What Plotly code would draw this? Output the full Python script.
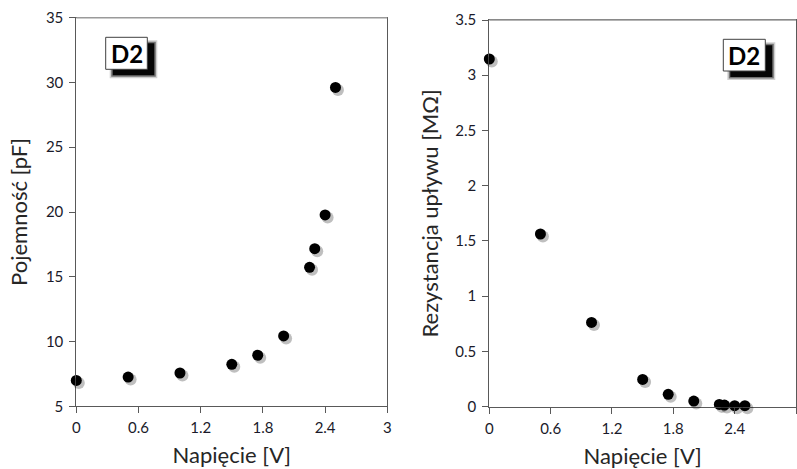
import plotly.graph_objects as go

# ---- data ----
voltage = [0.0, 0.5, 1.0, 1.5, 1.75, 2.0, 2.25, 2.3, 2.4, 2.5]
capacitance_pF = [7.0, 7.26, 7.57, 8.24, 8.94, 10.43, 15.73, 17.17, 19.77, 29.62]
resistance_MOhm = [3.147, 1.563, 0.763, 0.247, 0.112, 0.051, 0.021, 0.015, 0.009, 0.009]

x_ticks = [0, 0.6, 1.2, 1.8, 2.4, 3]
x_tick_text = ["0", "0.6", "1.2", "1.8", "2.4", "3"]
cap_ticks = [5, 10, 15, 20, 25, 30, 35]
res_ticks = [0, 0.5, 1, 1.5, 2, 2.5, 3, 3.5]
res_tick_text = ["0", "0.5", "1", "1.5", "2", "2.5", "3", "3.5"]

x_title = "Napięcie [V]"
cap_title = "Pojemność [pF]"
res_title = "Rezystancja upływu [MΩ]"
panel_label = "D2"

W, H = 797, 469
FONT = "Lato, 'Open Sans', sans-serif"
AXC = "#595959"
TXT = "#1a1a2a"


def px(x):
    return min(max(x / W, 0), 1)


def py(y):
    return min(max(1 - y / H, 0), 1)


# plot-area pixel boxes (left, top, right, bottom)
L = (76.3, 17.7, 387.3, 406.3)
R = (489.3, 20.0, 796.0, 406.7)
SH = 2.5  # shadow offset in px
XR = [0, 3]
L_xr = [XR[0], XR[1]]
R_xr = [XR[0], XR[1] - (XR[1] - XR[0]) * SH / (R[2] - R[0])]

fig = go.Figure()

fig.add_trace(go.Scatter(x=voltage, y=capacitance_pF, mode="markers",
                         marker=dict(color="black", size=11), cliponaxis=False,
                         xaxis="x", yaxis="y", showlegend=False))
fig.add_trace(go.Scatter(x=voltage, y=resistance_MOhm, mode="markers",
                         marker=dict(color="black", size=11), cliponaxis=False,
                         xaxis="x2", yaxis="y2", showlegend=False))
fig.add_trace(go.Scatter(x=voltage, y=capacitance_pF, mode="markers",
                         marker=dict(color="rgba(0,0,0,0.25)", size=12), cliponaxis=False,
                         xaxis="x3", yaxis="y3", showlegend=False, hoverinfo="skip"))
fig.add_trace(go.Scatter(x=voltage, y=resistance_MOhm, mode="markers",
                         marker=dict(color="rgba(0,0,0,0.25)", size=12), cliponaxis=False,
                         xaxis="x4", yaxis="y4", showlegend=False, hoverinfo="skip"))

tickfont = dict(family=FONT, size=15, color=TXT)
titlefont = dict(family=FONT, size=22, color="#262626")

common_x = dict(range=XR, tickvals=x_ticks, ticktext=x_tick_text, ticks="outside",
                ticklen=6, tickcolor=AXC, showline=True, linecolor=AXC, linewidth=1,
                mirror=True, showgrid=False, zeroline=False, tickfont=tickfont,
                ticklabelstandoff=2,
                automargin=False, title=dict(text=x_title, font=titlefont, standoff=12))
common_y = dict(ticks="outside", ticklen=6, tickcolor=AXC, showline=True, linecolor=AXC,
                linewidth=1, mirror=True, showgrid=False, zeroline=False, tickfont=tickfont,
                ticklabelstandoff=3, automargin=False)
hidden = dict(visible=False, automargin=False, showgrid=False, zeroline=False)

fig.update_layout(
    width=W, height=H, margin=dict(l=0, r=0, t=0, b=0, autoexpand=False),
    paper_bgcolor="white", plot_bgcolor="rgba(0,0,0,0)",
    font=dict(family=FONT),
    xaxis=dict(domain=[px(L[0]), px(L[2])], anchor="y", **common_x),
    yaxis=dict(domain=[py(L[3]), py(L[1])], anchor="x", range=[5, 35], tickvals=cap_ticks,
               title=dict(text=cap_title, font=titlefont, standoff=12), **common_y),
    xaxis2=dict(domain=[px(R[0]), px(R[2])], anchor="y2", **common_x),
    yaxis2=dict(domain=[py(R[3]), py(R[1])], anchor="x2", range=[0, 3.5], tickvals=res_ticks,
                ticktext=res_tick_text,
                title=dict(text=res_title, font=titlefont, standoff=10), **common_y),
    xaxis3=dict(domain=[px(L[0] + SH), px(L[2] + SH)], anchor="y3", range=L_xr, **hidden),
    yaxis3=dict(domain=[py(L[3] + SH), py(L[1] + SH)], anchor="x3", range=[5, 35], **hidden),
    xaxis4=dict(domain=[px(R[0] + SH), px(R[2])], anchor="y4", range=R_xr, **hidden),
    yaxis4=dict(domain=[py(R[3] + SH), py(R[1] + SH)], anchor="x4", range=[0, 3.5], **hidden),
)

shapes = []
for box in (L, R):
    shapes.append(dict(type="line", xref="paper", yref="paper",
                       x0=px(box[0]), x1=px(box[2]), y0=py(box[1]), y1=py(box[1]),
                       line=dict(color="#9a9a9a", width=1.5)))


def label_box(x0, y0, x1, y1):
    out = []
    for d, op in ((3, 0.18), (1.5, 0.45), (0, 0.95)):
        out.append(dict(type="rect", xref="paper", yref="paper",
                        x0=px(x0 + 7 - d), x1=px(x1 + 7 + d), y0=py(y1 + 6 + d), y1=py(y0 + 6 - d),
                        fillcolor=f"rgba(0,0,0,{op})", line=dict(width=0)))
    out.append(dict(type="rect", xref="paper", yref="paper",
                    x0=px(x0), x1=px(x1), y0=py(y1), y1=py(y0),
                    fillcolor="white", line=dict(color="#404040", width=1)))
    return out


LB = (105.7, 37.3, 147.3, 69.3)
RB = (723.3, 39.3, 765.3, 71.0)
shapes += label_box(*LB)
shapes += label_box(*RB)
fig.update_layout(shapes=shapes)

for b in (LB, RB):
    fig.add_annotation(x=px((b[0] + b[2]) / 2), y=py((b[1] + b[3]) / 2), xref="paper", yref="paper",
                       text=f"<b>{panel_label}</b>", showarrow=False,
                       font=dict(family=FONT, size=24, color="black"),
                       xanchor="center", yanchor="middle")

fig.write_html("out.html", config={"displayModeBar": False},
               post_script="document.body.style.margin='0';document.body.style.overflow='hidden';")
